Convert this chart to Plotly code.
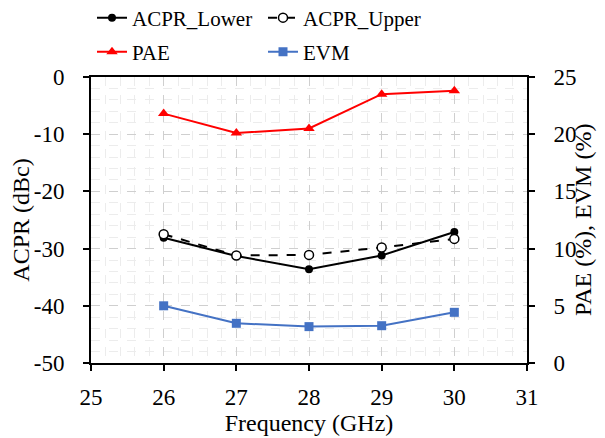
import plotly.graph_objects as go

freq = [26, 27, 28, 29, 30]
acpr_lower = [-28.1, -31.3, -33.6, -31.2, -27.1]
acpr_upper = [-27.5, -31.2, -31.1, -29.8, -28.3]
pae = [21.8, 20.1, 20.5, 23.5, 23.8]
evm = [5.0, 3.47, 3.18, 3.26, 4.43]

acpr_ticks = [0, -10, -20, -30, -40, -50]
acpr_ticktext = ["0", "-10", "-20", "-30", "-40", "-50"]

FONT = "Liberation Serif"
W, H = 597, 430  # page body has an 8px margin
L, R, T, B = 83, 78, 69, 75

fig = go.Figure()
fig.add_trace(go.Scatter(x=freq, y=acpr_lower, name="ACPR_Lower", mode="lines+markers",
                         line=dict(color="black", width=2),
                         marker=dict(symbol="circle", size=8, color="black"),
                         legend="legend"))
fig.add_trace(go.Scatter(x=freq, y=acpr_upper, name="ACPR_Upper", mode="lines+markers",
                         line=dict(color="black", width=2, dash="dash"),
                         marker=dict(symbol="circle", size=9, color="white",
                                     line=dict(color="black", width=1.5)),
                         legend="legend"))
fig.add_trace(go.Scatter(x=freq, y=pae, name="PAE", mode="lines+markers", yaxis="y2",
                         line=dict(color="#ff0000", width=2),
                         marker=dict(symbol="triangle-up", size=10, color="#ff0000"),
                         legend="legend2"))
fig.add_trace(go.Scatter(x=freq, y=evm, name="EVM", mode="lines+markers", yaxis="y2",
                         line=dict(color="#4472C4", width=2),
                         marker=dict(symbol="square", size=9, color="#4472C4"),
                         legend="legend2"))

leg_common = dict(orientation="h", xref="container", yref="container",
                  x=84 / W, xanchor="left", yanchor="middle",
                  entrywidth=126, entrywidthmode="pixels",
                  font=dict(family=FONT, size=21, color="black"),
                  bgcolor="rgba(0,0,0,0)")

plot_w = W - L - R

fig.update_layout(
    width=W, height=H,
    margin=dict(l=L, r=R, t=T, b=B, autoexpand=False),
    paper_bgcolor="white", plot_bgcolor="white",
    font=dict(family=FONT, size=23, color="black"),
    legend=dict(**leg_common, y=1 - 10 / H),
    legend2=dict(**leg_common, y=1 - 44 / H),
    xaxis=dict(range=[25, 31], dtick=1, tick0=25, automargin=False,
               title=dict(text="Frequency (GHz)", font=dict(family=FONT, size=24), standoff=2),
               showline=True, linecolor="black", linewidth=2, mirror=True,
               ticks="outside", ticklen=6, tickwidth=1.5, tickcolor="black",
               ticklabelstandoff=6,
               showgrid=True, gridcolor="#cfcfcf", griddash="dash", gridwidth=1,
               zeroline=False,
               minor=dict(dtick=0.2, showgrid=True, gridcolor="#ececec", griddash="dash", gridwidth=1)),
    yaxis=dict(range=[-50, 0], tickmode="array", tickvals=acpr_ticks, ticktext=acpr_ticktext,
               automargin=False,
               title=dict(text="ACPR (dBc)", font=dict(family=FONT, size=24), standoff=6),
               showline=True, linecolor="black", linewidth=2,
               ticks="outside", ticklen=6, tickwidth=1.5, tickcolor="black",
               ticklabelstandoff=14,
               showgrid=True, gridcolor="#cfcfcf", griddash="dash", gridwidth=1,
               zeroline=False,
               minor=dict(dtick=2, tick0=0, showgrid=True, gridcolor="#ececec", griddash="dash", gridwidth=1)),
    yaxis2=dict(range=[0, 25], dtick=5, overlaying="y", side="right", automargin=False,
                showline=True, linecolor="black", linewidth=2,
                ticks="outside", ticklen=6, tickwidth=1.5, tickcolor="black",
                ticklabelstandoff=14,
                showgrid=False, zeroline=False),
    annotations=[dict(text="PAE (%), EVM (%)", textangle=-90, showarrow=False,
                      xref="paper", yref="paper", x=(575 - L) / plot_w, y=0.5,
                      xanchor="center", yanchor="middle",
                      font=dict(family=FONT, size=24, color="black"))],
)

fig.write_html("out.html")
